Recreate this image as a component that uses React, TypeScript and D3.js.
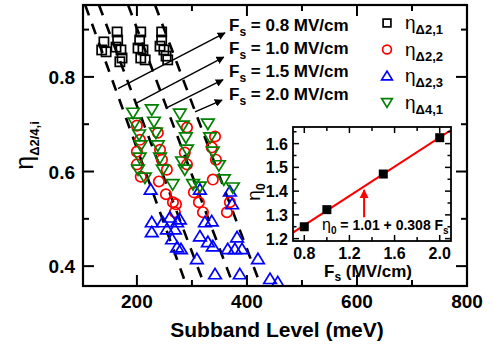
import React from 'react';
import * as d3 from 'd3';

const W = 495, H = 345;
const FONT = 'Liberation Sans, Arial, sans-serif';

// ---- main panel data (Subband level meV, eta) ----
const sqE = [140, 136, 144, 164, 165, 162, 171, 173, 169, 207, 205, 202, 211, 207, 215, 245, 245, 242, 249, 253, 256];
const sqEta = [0.874, 0.857, 0.853, 0.895, 0.878, 0.863, 0.857, 0.840, 0.832, 0.895, 0.878, 0.861, 0.857, 0.840, 0.836, 0.895, 0.878, 0.865, 0.857, 0.844, 0.836];

const rE = [200, 205.5, 200, 200, 207, 240, 252.7, 271, 238, 242, 245.5, 254.5, 265.5, 269, 291, 287, 291, 303.6, 312.7, 320, 342, 336, 343.6, 338, 369, 363.6];
const rEta = [0.697, 0.667, 0.642, 0.615, 0.589, 0.579, 0.552, 0.531, 0.682, 0.646, 0.625, 0.604, 0.535, 0.514, 0.693, 0.640, 0.615, 0.556, 0.535, 0.514, 0.674, 0.651, 0.625, 0.583, 0.535, 0.514];

const bE = [225, 227, 227, 247, 260, 254.5, 273, 264, 273, 280, 309, 314.5, 323.6, 336, 314.5, 329, 338, 369, 373, 382, 378, 391, 365, 420, 342, 387, 442, 456, 269, 278];
const bEta = [0.562, 0.493, 0.472, 0.493, 0.503, 0.478, 0.493, 0.457, 0.440, 0.436, 0.415, 0.562, 0.493, 0.495, 0.463, 0.451, 0.442, 0.558, 0.531, 0.461, 0.436, 0.436, 0.436, 0.415, 0.383, 0.383, 0.373, 0.366, 0.478, 0.499];

const gE = [193, 196, 204, 207, 205, 202, 214.5, 227, 231, 234.5, 238, 242, 247, 265, 278, 283.6, 289, 291, 282, 287, 302, 314.5, 329, 333, 338, 349, 358, 374.5];
const gEta = [0.724, 0.703, 0.678, 0.655, 0.629, 0.604, 0.587, 0.731, 0.705, 0.682, 0.655, 0.629, 0.604, 0.573, 0.722, 0.697, 0.672, 0.646, 0.621, 0.604, 0.573, 0.568, 0.701, 0.672, 0.642, 0.613, 0.583, 0.566];

// dashed field lines (start / end in data units)
const lineE1 = [106, 131, 184, 233];
const lineEta1 = [0.952, 0.952, 0.952, 0.952];
const lineE2 = [291, 324, 376.5, 426];
const lineEta2 = [0.356, 0.356, 0.356, 0.356];

// annotation arrows (tail on dashed line -> head at label)
const fieldLabels = ['0.8', '1.0', '1.5', '2.0'];
const arrE1 = [165.6, 196.5, 253, 305.6];
const arrEta1 = [0.775, 0.743, 0.734, 0.726];
const arrE2 = [360, 358, 356.5, 354.7];
const arrEta2 = [0.893, 0.842, 0.794, 0.751];

const xTicks = [200, 400, 600, 800];
const xMinor = [300, 500, 700];
const yTicks = [0.4, 0.6, 0.8];
const yMinor = [0.5, 0.7, 0.9];

// ---- inset data ----
const insF = [0.8, 1.0, 1.5, 2.0];
const insEta0 = [1.25, 1.322, 1.472, 1.625];
const fitA = 1.01, fitB = 0.308;
const insXTicks = [0.8, 1.2, 1.6, 2.0];
const insXMinor = [1.0, 1.4, 1.8];
const insYTicks = [1.2, 1.3, 1.4, 1.5, 1.6];
const insYMinor = [1.25, 1.35, 1.45, 1.55, 1.65];
const insArrowF = 1.33, insArrowFrom = 1.29, insArrowTo = 1.405;

const legendItems = [
  { sub: '\u03942,1', color: '#000', shape: 'square' },
  { sub: '\u03942,2', color: '#ff0000', shape: 'circle' },
  { sub: '\u03942,3', color: '#0000ff', shape: 'up' },
  { sub: '\u03944,1', color: '#008000', shape: 'down' },
];

const x = d3.scaleLinear().domain([102, 800]).range([83, 467]);
const y = d3.scaleLinear().domain([0.358, 0.952]).range([286, 5]);

const ix = d3.scaleLinear().domain([0.7, 2.1]).range([293, 451]);
const iy = d3.scaleLinear().domain([1.19, 1.67]).range([241, 127]);

function Marker({ shape, cx, cy, color, s = 1 }: any) {
  const sw = 1.7;
  if (shape === 'square') {
    const h = 4.6 * s;
    return <rect x={cx - h} y={cy - h} width={2 * h} height={2 * h} fill="none" stroke={color} strokeWidth={sw} />;
  }
  if (shape === 'circle') {
    return <circle cx={cx} cy={cy} r={5.2 * s} fill="none" stroke={color} strokeWidth={sw} />;
  }
  if (shape === 'up') {
    const p = `M${cx},${cy - 5.8 * s}L${cx + 6.3 * s},${cy + 4.6 * s}L${cx - 6.3 * s},${cy + 4.6 * s}Z`;
    return <path d={p} fill="none" stroke={color} strokeWidth={sw} strokeLinejoin="miter" />;
  }
  const p = `M${cx},${cy + 5.8 * s}L${cx + 6.3 * s},${cy - 4.6 * s}L${cx - 6.3 * s},${cy - 4.6 * s}Z`;
  return <path d={p} fill="none" stroke={color} strokeWidth={sw} strokeLinejoin="miter" />;
}

export default function App() {
  const [x0, x1] = x.range();
  const [y0, y1] = [y.range()[1], y.range()[0]]; // top, bottom
  const ins = { l: ix.range()[0], r: ix.range()[1], t: iy.range()[1], b: iy.range()[0] };

  const series = [
    { E: sqE, Eta: sqEta, shape: 'square', color: '#000' },
    { E: rE, Eta: rEta, shape: 'circle', color: '#ff0000' },
    { E: bE, Eta: bEta, shape: 'up', color: '#0000ff' },
    { E: gE, Eta: gEta, shape: 'down', color: '#008000' },
  ];

  return (
    <svg width={W} height={H} style={{ position: 'absolute', left: 0, top: 0, background: '#fff' }} fontFamily={FONT}>
      <defs>
        <clipPath id="plotClip">
          <rect x={x0} y={y0} width={x1 - x0} height={y1 - y0} />
        </clipPath>
        <clipPath id="insClip">
          <rect x={ins.l} y={ins.t} width={ins.r - ins.l} height={ins.b - ins.t} />
        </clipPath>
        <marker id="ah" viewBox="0 0 10 10" refX="9" refY="5" markerWidth="8" markerHeight="8" markerUnits="userSpaceOnUse" orient="auto">
          <path d="M0,0L10,5L0,10Z" fill="#000" />
        </marker>
        <marker id="ahr" viewBox="0 0 10 10" refX="9" refY="5" markerWidth="9" markerHeight="11" markerUnits="userSpaceOnUse" orient="auto">
          <path d="M0,0L10,5L0,10Z" fill="#ff0000" />
        </marker>
      </defs>

      <g clipPath="url(#plotClip)">
        {lineE1.map((e, i) => (
          <line key={'dl' + i} x1={x(e)} y1={y(lineEta1[i])} x2={x(lineE2[i])} y2={y(lineEta2[i])}
            stroke="#000" strokeWidth={2.6} strokeDasharray="11,9" />
        ))}
        {series.map((s, si) => s.E.map((e, i) => (
          <Marker key={si + '_' + i} shape={s.shape} cx={x(e)} cy={y(s.Eta[i])} color={s.color} />
        )))}
        {arrE1.map((e, i) => (
          <line key={'ar' + i} x1={x(e)} y1={y(arrEta1[i])} x2={x(arrE2[i])} y2={y(arrEta2[i])}
            stroke="#000" strokeWidth={1.4} markerEnd="url(#ah)" />
        ))}
      </g>

      {/* field labels */}
      {fieldLabels.map((f, i) => (
        <text key={'fl' + i} x={229} y={31 + i * 23} fontSize={17} fontWeight="bold" fill="#000">
          F<tspan fontSize={12} dy={5}>s</tspan><tspan dy={-5}>{` = ${f} MV/cm`}</tspan>
        </text>
      ))}

      {/* legend */}
      {legendItems.map((it, i) => (
        <g key={'lg' + i}>
          <Marker shape={it.shape} cx={387} cy={23 + i * 26.5} color={it.color} s={0.85} />
          <text x={405} y={29 + i * 26.5} fontSize={19} fill="#000">
            {'\u03b7'}<tspan fontSize={13} fontWeight="bold" dy={5}>{it.sub}</tspan>
          </text>
        </g>
      ))}

      {/* main frame */}
      <rect x={x0} y={y0} width={x1 - x0} height={y1 - y0} fill="none" stroke="#000" strokeWidth={2.2} />
      {xTicks.map(t => (
        <g key={'xt' + t}>
          <line x1={x(t)} x2={x(t)} y1={y1} y2={y1 - 11} stroke="#000" strokeWidth={2} />
          <line x1={x(t)} x2={x(t)} y1={y0} y2={y0 + 11} stroke="#000" strokeWidth={2} />
          <text x={x(t)} y={y1 + 22} textAnchor="middle" fontSize={19} fontWeight="bold">{t}</text>
        </g>
      ))}
      {xMinor.map(t => (
        <g key={'xm' + t}>
          <line x1={x(t)} x2={x(t)} y1={y1} y2={y1 - 6} stroke="#000" strokeWidth={2} />
          <line x1={x(t)} x2={x(t)} y1={y0} y2={y0 + 6} stroke="#000" strokeWidth={2} />
        </g>
      ))}
      {yTicks.map(t => (
        <g key={'yt' + t}>
          <line x1={x0} x2={x0 + 11} y1={y(t)} y2={y(t)} stroke="#000" strokeWidth={2} />
          <line x1={x1} x2={x1 - 11} y1={y(t)} y2={y(t)} stroke="#000" strokeWidth={2} />
          <text x={x0 - 8} y={y(t) + 7} textAnchor="end" fontSize={19} fontWeight="bold">{t.toFixed(1)}</text>
        </g>
      ))}
      {yMinor.map(t => (
        <g key={'ym' + t}>
          <line x1={x0} x2={x0 + 6} y1={y(t)} y2={y(t)} stroke="#000" strokeWidth={2} />
          <line x1={x1} x2={x1 - 6} y1={y(t)} y2={y(t)} stroke="#000" strokeWidth={2} />
        </g>
      ))}

      <text x={(x0 + x1) / 2 + 2} y={337} textAnchor="middle" fontSize={21} fontWeight="bold">Subband Level (meV)</text>
      <text transform={`translate(33,${(y0 + y1) / 2}) rotate(-90)`} textAnchor="middle" fontSize={25}>
        {'\u03b7'}<tspan fontSize={13} fontWeight="bold" dy={6}>{'\u03942/4,i'}</tspan>
      </text>

      {/* inset */}
      <rect x={ins.l} y={ins.t} width={ins.r - ins.l} height={ins.b - ins.t} fill="#fff" stroke="none" />
      <g clipPath="url(#insClip)">
        <line x1={ix(0.7)} y1={iy(fitA + fitB * 0.7)} x2={ix(2.1)} y2={iy(fitA + fitB * 2.1)} stroke="#ff0000" strokeWidth={2} />
        {insF.map((f, i) => (
          <rect key={'is' + i} x={ix(f) - 4.5} y={iy(insEta0[i]) - 4.5} width={9} height={9} fill="#000" />
        ))}
      </g>
      <line x1={ix(insArrowF)} x2={ix(insArrowF)} y1={iy(insArrowFrom)} y2={iy(insArrowTo)} stroke="#ff0000" strokeWidth={2} markerEnd="url(#ahr)" />
      <text x={322} y={230} fontSize={14} fontWeight="bold">
        <tspan fontWeight="normal" fontSize={16}>{'\u03b7'}</tspan><tspan fontSize={10} dy={4}>0</tspan><tspan dy={-4}>{` = ${fitA} + ${fitB} F`}</tspan><tspan fontSize={10} dy={4}>s</tspan>
      </text>
      <rect x={ins.l} y={ins.t} width={ins.r - ins.l} height={ins.b - ins.t} fill="none" stroke="#000" strokeWidth={1.8} />
      {insXTicks.map(t => (
        <g key={'ixt' + t}>
          <line x1={ix(t)} x2={ix(t)} y1={ins.b} y2={ins.b - 6} stroke="#000" strokeWidth={1.5} />
          <line x1={ix(t)} x2={ix(t)} y1={ins.t} y2={ins.t + 6} stroke="#000" strokeWidth={1.5} />
          <text x={ix(t)} y={ins.b + 18} textAnchor="middle" fontSize={16} fontWeight="bold">{t.toFixed(1)}</text>
        </g>
      ))}
      {insXMinor.map(t => (
        <g key={'ixm' + t}>
          <line x1={ix(t)} x2={ix(t)} y1={ins.b} y2={ins.b - 4} stroke="#000" strokeWidth={1.5} />
          <line x1={ix(t)} x2={ix(t)} y1={ins.t} y2={ins.t + 4} stroke="#000" strokeWidth={1.5} />
        </g>
      ))}
      {insYTicks.map(t => (
        <g key={'iyt' + t}>
          <line x1={ins.l} x2={ins.l + 6} y1={iy(t)} y2={iy(t)} stroke="#000" strokeWidth={1.5} />
          <line x1={ins.r} x2={ins.r - 6} y1={iy(t)} y2={iy(t)} stroke="#000" strokeWidth={1.5} />
          <text x={ins.l - 5} y={iy(t) + 6} textAnchor="end" fontSize={16} fontWeight="bold">{t.toFixed(1)}</text>
        </g>
      ))}
      {insYMinor.map(t => (
        <g key={'iym' + t}>
          <line x1={ins.l} x2={ins.l + 3.5} y1={iy(t)} y2={iy(t)} stroke="#000" strokeWidth={1.5} />
          <line x1={ins.r} x2={ins.r - 3.5} y1={iy(t)} y2={iy(t)} stroke="#000" strokeWidth={1.5} />
        </g>
      ))}
      <text x={(ins.l + ins.r) / 2 - 4} y={277} textAnchor="middle" fontSize={17} fontWeight="bold">
        F<tspan fontSize={12} dy={4}>s</tspan><tspan dy={-4}>{' (MV/cm)'}</tspan>
      </text>
      <text transform={`translate(260,${(ins.t + ins.b) / 2 + 8}) rotate(-90)`} textAnchor="middle" fontSize={19}>
        {'\u03b7'}<tspan fontSize={12} fontWeight="bold" dy={5}>0</tspan>
      </text>
    </svg>
  );
}
